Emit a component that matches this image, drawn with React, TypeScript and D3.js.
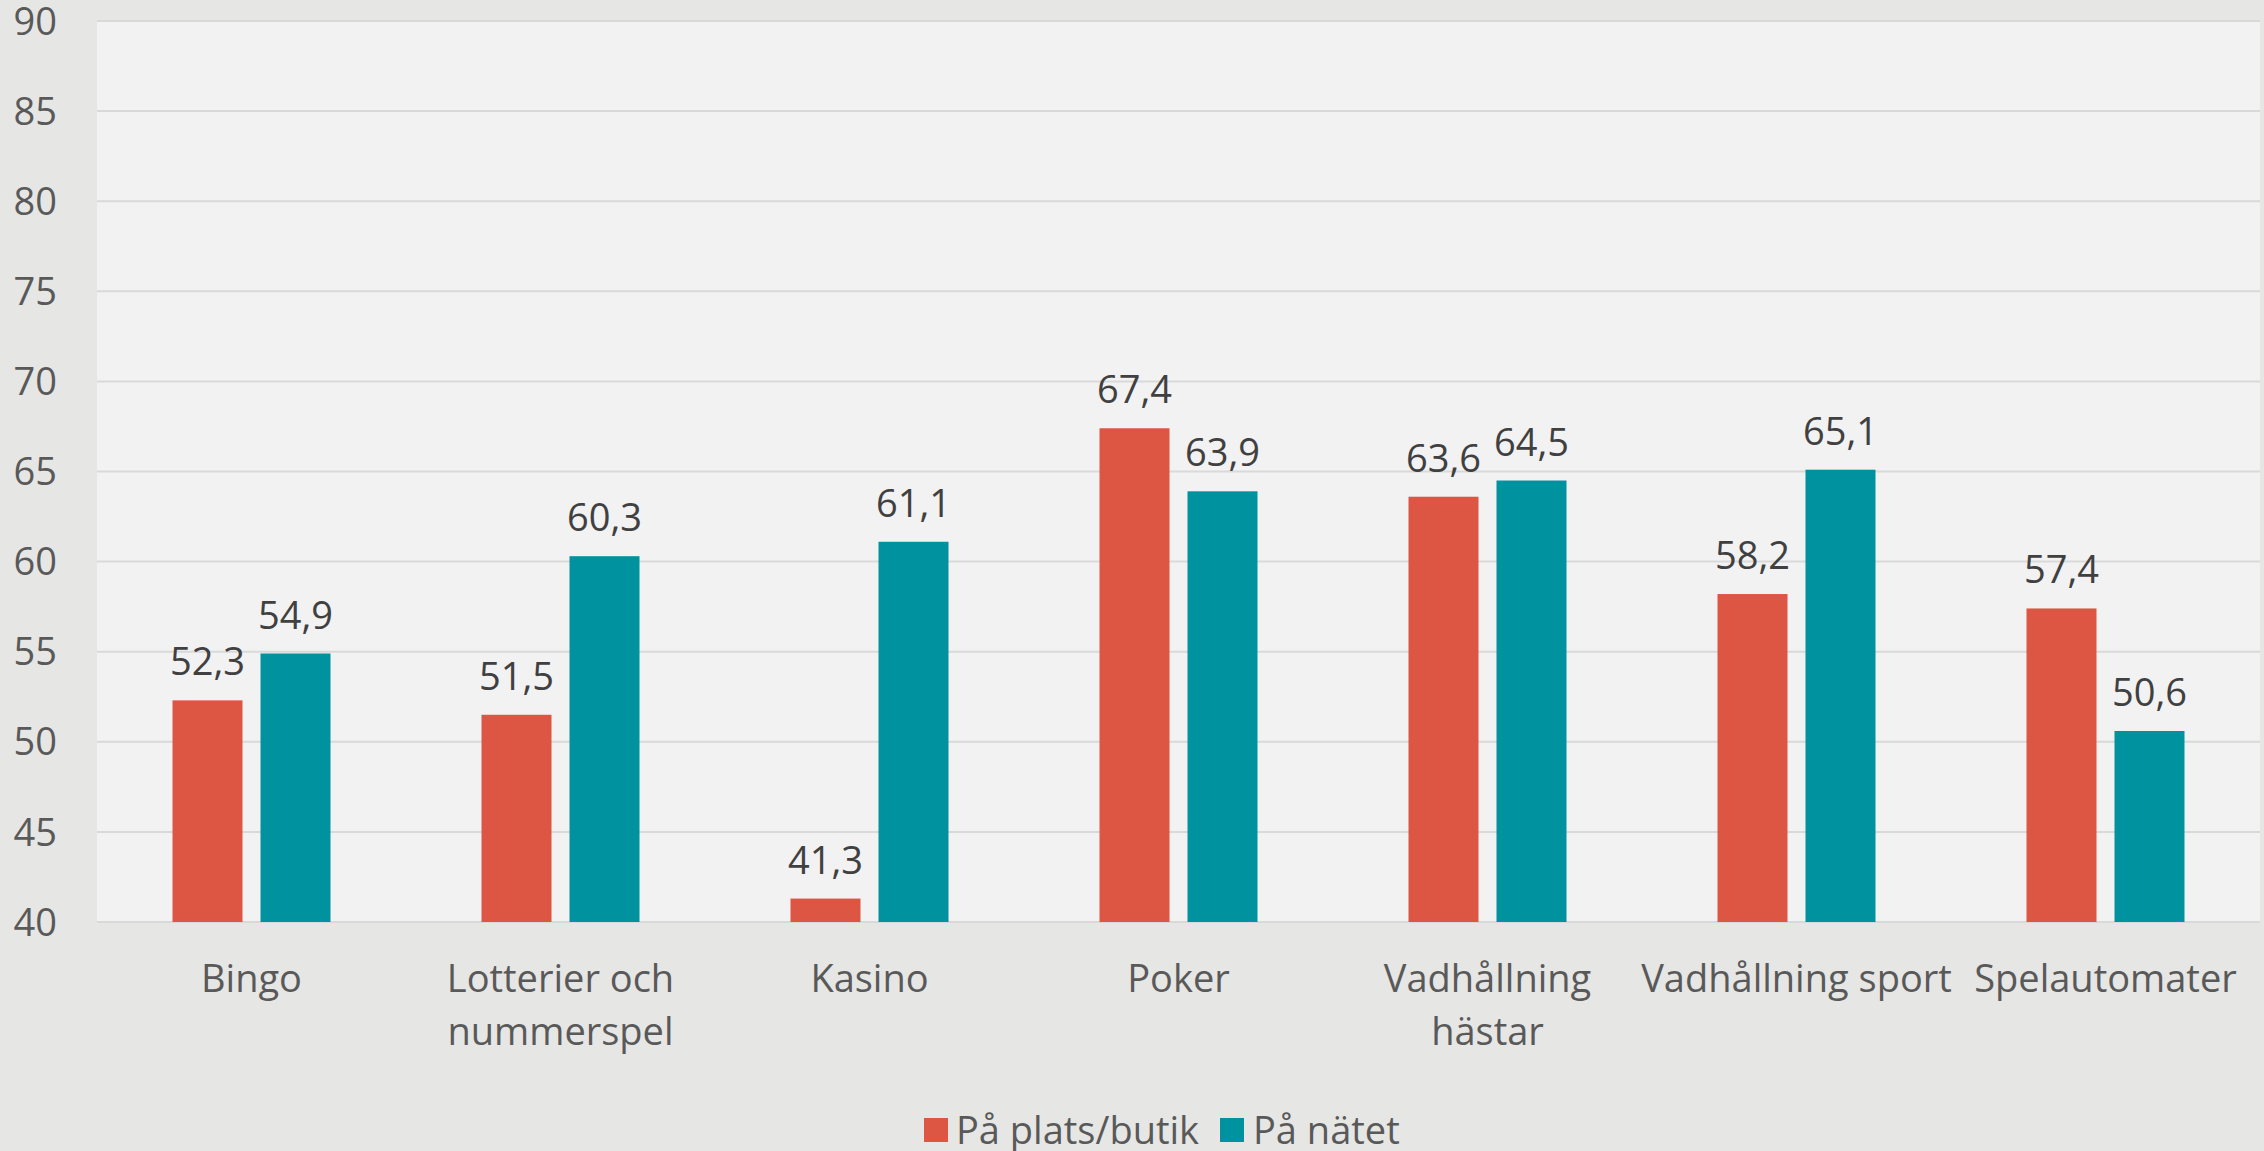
import * as d3 from "d3";

const categories = [
  ["Bingo"],
  ["Lotterier och", "nummerspel"],
  ["Kasino"],
  ["Poker"],
  ["Vadhållning", "hästar"],
  ["Vadhållning sport"],
  ["Spelautomater"],
];
const seriesNames = ["På plats/butik", "På nätet"];
const platsValues = [52.3, 51.5, 41.3, 67.4, 63.6, 58.2, 57.4];
const natetValues = [54.9, 60.3, 61.1, 63.9, 64.5, 65.1, 50.6];
const yTicks = [40, 45, 50, 55, 60, 65, 70, 75, 80, 85, 90];

const colors = ["#dd5644", "#00929f"];
const FONT = "'Open Sans', 'Noto Sans', sans-serif";

export default function App() {
  const width = 2264;
  const height = 1151;
  const plot = { left: 97, right: 2260, top: 21, bottom: 922 };

  const keys = categories.map((c) => c.join(" "));
  const x0 = d3.scaleBand<string>().domain(keys).range([plot.left, plot.right]);
  const groupW = 158;
  const x1 = d3
    .scaleBand<string>()
    .domain(seriesNames)
    .range([x0.bandwidth() / 2 - groupW / 2, x0.bandwidth() / 2 + groupW / 2])
    .paddingInner(0.2045);
  const y = d3.scaleLinear().domain([40, 90]).range([plot.bottom, plot.top]);

  const seriesValues = [platsValues, natetValues];
  const fmt = (v: number) => v.toFixed(1).replace(".", ",");

  const legendItems = [
    { name: seriesNames[0], swatchX: 924, textX: 956 },
    { name: seriesNames[1], swatchX: 1220, textX: 1253 },
  ];

  return (
    <svg
      width={width}
      height={height}
      style={{ position: "absolute", left: 0, top: 0, display: "block" }}
      fontFamily={FONT}
    >
      <rect width={width} height={height} fill="#e6e6e4" />
      <rect
        x={plot.left}
        y={plot.top}
        width={plot.right - plot.left}
        height={plot.bottom - plot.top}
        fill="#f2f2f2"
      />

      {yTicks.map((t) => (
        <g key={`y-${t}`}>
          <line
            x1={plot.left}
            x2={plot.right}
            y1={y(t)}
            y2={y(t)}
            stroke="#d9d9d9"
            strokeWidth={2}
          />
          <text
            x={57}
            y={y(t)}
            dy="0.36em"
            textAnchor="end"
            fill="#595959"
            fontSize={38}
          >
            {t}
          </text>
        </g>
      ))}

      {keys.map((key, i) => (
        <g key={key} transform={`translate(${x0(key)}, 0)`}>
          {seriesNames.map((s, si) => {
            const v = seriesValues[si][i];
            const bx = x1(s) ?? 0;
            return (
              <g key={s}>
                <rect
                  x={bx}
                  y={y(v)}
                  width={x1.bandwidth()}
                  height={plot.bottom - y(v)}
                  fill={colors[si]}
                />
                <text
                  x={bx + x1.bandwidth() / 2}
                  y={y(v) - 25}
                  textAnchor="middle"
                  fill="#404040"
                  fontSize={38}
                >
                  {fmt(v)}
                </text>
              </g>
            );
          })}
          <text
            x={x0.bandwidth() / 2}
            y={plot.bottom + 70}
            textAnchor="middle"
            fill="#595959"
            fontSize={38}
          >
            {categories[i].map((line, li) => (
              <tspan key={li} x={x0.bandwidth() / 2} dy={li === 0 ? 0 : 53}>
                {line}
              </tspan>
            ))}
          </text>
        </g>
      ))}

      {legendItems.map((item, i) => (
        <g key={item.name}>
          <rect x={item.swatchX} y={1118} width={24} height={24} fill={colors[i]} />
          <text x={item.textX} y={1144} fill="#595959" fontSize={38}>
            {item.name}
          </text>
        </g>
      ))}
    </svg>
  );
}
